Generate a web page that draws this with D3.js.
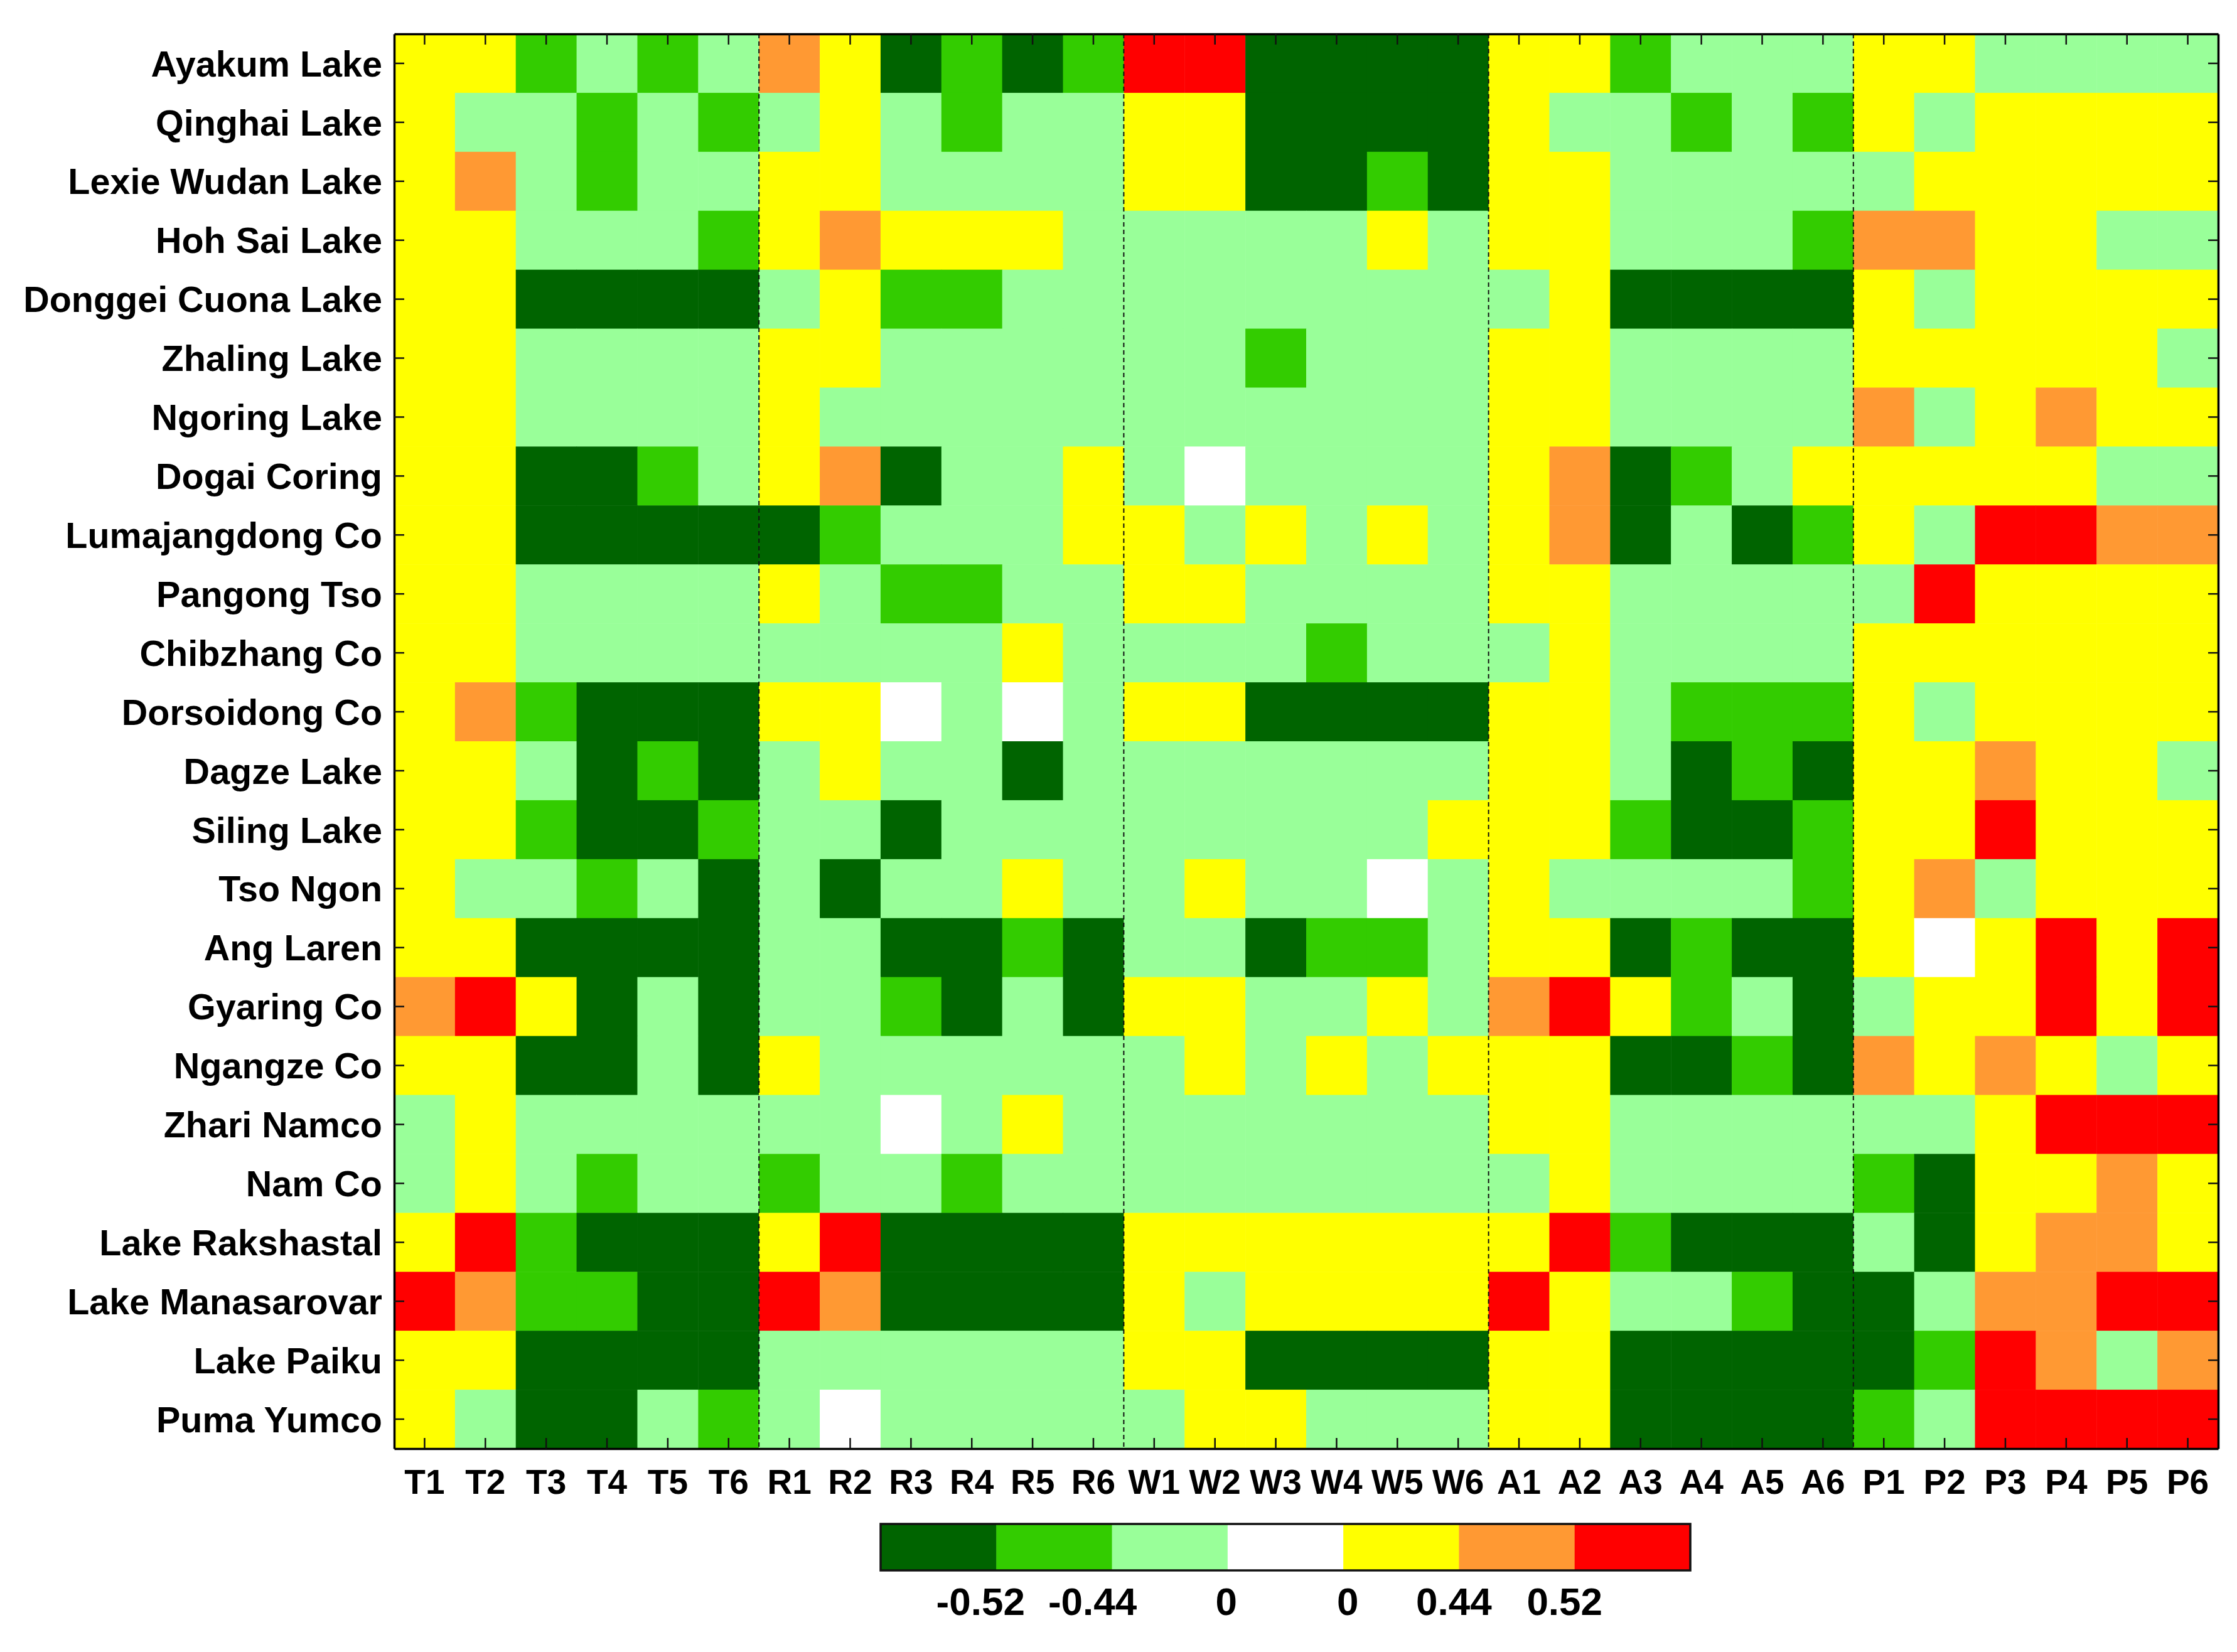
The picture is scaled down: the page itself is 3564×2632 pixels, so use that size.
<!DOCTYPE html>
<html>
<head>
<meta charset="utf-8">
<script src="https://cdn.jsdelivr.net/npm/d3@7"></script>
<style>
  body { margin: 0; background: #fff; }
  text { font-family: "Liberation Sans", Arial, sans-serif; font-weight: bold; fill: #000; }
</style>
</head>
<body>
<svg id="chart"></svg>
<script>
const lakes = ["Ayakum Lake", "Qinghai Lake", "Lexie Wudan Lake", "Hoh Sai Lake", "Donggei Cuona Lake",
    "Zhaling Lake", "Ngoring Lake", "Dogai Coring", "Lumajangdong Co", "Pangong Tso", "Chibzhang Co",
    "Dorsoidong Co", "Dagze Lake", "Siling Lake", "Tso Ngon", "Ang Laren", "Gyaring Co", "Ngangze Co",
    "Zhari Namco", "Nam Co", "Lake Rakshastal", "Lake Manasarovar", "Lake Paiku", "Puma Yumco"];
const groups = ["T", "R", "W", "A", "P"];
const months = [1, 2, 3, 4, 5, 6];
const columns = groups.flatMap(g => months.map(m => g + m));

// colour class of each cell, one line per lake, one block per group (T R W A P)
const classRows = [
    "YYGLGL OYDGDG RRDDDD YYGLLL YYLLLL",
    "YLLGLG LYLGLL YYDDDD YLLGLG YLYYYY",
    "YOLGLL YYLLLL YYDDGD YYLLLL LYYYYY",
    "YYLLLG YOYYYL LLLLYL YYLLLG OOYYLL",
    "YYDDDD LYGGLL LLLLLL LYDDDD YLYYYY",
    "YYLLLL YYLLLL LLGLLL YYLLLL YYYYYL",
    "YYLLLL YLLLLL LLLLLL YYLLLL OLYOYY",
    "YYDDGL YODLLY LWLLLL YODGLY YYYYLL",
    "YYDDDD DGLLLY YLYLYL YODLDG YLRROO",
    "YYLLLL YLGGLL YYLLLL YYLLLL LRYYYY",
    "YYLLLL LLLLYL LLLGLL LYLLLL YYYYYY",
    "YOGDDD YYWLWL YYDDDD YYLGGG YLYYYY",
    "YYLDGD LYLLDL LLLLLL YYLDGD YYOYYL",
    "YYGDDG LLDLLL LLLLLY YYGDDG YYRYYY",
    "YLLGLD LDLLYL LYLLWL YLLLLG YOLYYY",
    "YYDDDD LLDDGD LLDGGL YYDGDD YWYRYR",
    "ORYDLD LLGDLD YYLLYL ORYGLD LYYRYR",
    "YYDDLD YLLLLL LYLYLY YYDDGD OYOYLY",
    "LYLLLL LLWLYL LLLLLL YYLLLL LLYRRR",
    "LYLGLL GLLGLL LLLLLL LYLLLL GDYYOY",
    "YRGDDD YRDDDD YYYYYY YRGDDD LDYOOY",
    "ROGGDD RODDDD YLYYYY RYLLGD DLOORR",
    "YYDDDD LLLLLL YYDDDD YYDDDD DGROLO",
    "YLDDLG LWLLLL LYYLLL YYDDDD GLRRRR"
];
const classKeys = ["D", "G", "L", "W", "Y", "O", "R"];
const classColors = ["#006400", "#33cc00", "#99ff99", "#ffffff", "#ffff00", "#ff9933", "#ff0000"];
const legendLabels = ["-0.52", "-0.44", "0", "0", "0.44", "0.52"];

const svgWidth = 3564,
    svgHeight = 2632,
    margin = {top: 54, right: 30, bottom: 324, left: 628},
    width = svgWidth - margin.left - margin.right,
    height = svgHeight - margin.top - margin.bottom;

const chart = d3.select("#chart")
    .attr("width", svgWidth)
    .attr("height", svgHeight)
    .style("display", "block");
const inner = chart.append("g")
    .attr("transform", `translate(${margin.left},${margin.top})`);

const xScale = d3.scaleBand().domain(columns).range([0, width]);
const yScale = d3.scaleBand().domain(lakes).range([0, height]);
const color = d3.scaleOrdinal().domain(classKeys).range(classColors);

const cells = lakes.flatMap((lake, i) => classRows[i].replace(/ /g, "").split("")
    .map((c, j) => ({lake: lake, column: columns[j], cls: c})));

inner.selectAll("rect.cell")
    .data(cells)
    .join("rect")
    .attr("class", "cell")
    .attr("x", d => xScale(d.column))
    .attr("y", d => yScale(d.lake))
    .attr("width", xScale.bandwidth() + 0.5)
    .attr("height", yScale.bandwidth() + 0.5)
    .attr("fill", d => color(d.cls));

// dashed lines between the groups
inner.selectAll("line.sep")
    .data(groups.slice(1))
    .join("line")
    .attr("class", "sep")
    .attr("x1", d => xScale(d + 1))
    .attr("x2", d => xScale(d + 1))
    .attr("y1", 0)
    .attr("y2", height)
    .attr("stroke", "#111")
    .attr("stroke-width", 2)
    .attr("stroke-dasharray", "7,5");

function styleAxis(g, fontSize) {
    g.select(".domain").attr("stroke", "#000").attr("stroke-width", 3.5);
    g.selectAll(".tick line").attr("stroke", "#111").attr("stroke-width", 2.5);
    g.selectAll("text").attr("font-size", fontSize);
    g.attr("font-family", null);
}

inner.append("g")
    .call(d3.axisLeft(yScale).tickSizeInner(-16).tickSizeOuter(0).tickPadding(19))
    .call(styleAxis, 57.5)
    .selectAll("text").attr("dy", "0.36em");
inner.append("g")
    .attr("transform", `translate(0,${height})`)
    .call(d3.axisBottom(xScale).tickSizeInner(-17).tickSizeOuter(0).tickPadding(33))
    .call(styleAxis, 55);
inner.append("g")
    .call(d3.axisTop(xScale).tickSizeInner(-17).tickSizeOuter(0).tickFormat(""))
    .call(styleAxis, 55);
inner.append("g")
    .attr("transform", `translate(${width},0)`)
    .call(d3.axisRight(yScale).tickSizeInner(-16).tickSizeOuter(0).tickFormat(""))
    .call(styleAxis, 56);

// colour bar
const legendX = d3.scaleBand().domain(classKeys).range([1403, 2693]);
const legendTop = 2428, legendHeight = 74;
const legendNudge = [-25, -31, -2, 7, -8, -16];
const legend = chart.append("g");

legend.selectAll("rect")
    .data(classKeys)
    .join("rect")
    .attr("x", d => legendX(d))
    .attr("y", legendTop)
    .attr("width", legendX.bandwidth() + 0.5)
    .attr("height", legendHeight)
    .attr("fill", d => color(d));
legend.append("rect")
    .attr("x", legendX.range()[0])
    .attr("y", legendTop)
    .attr("width", legendX.range()[1] - legendX.range()[0])
    .attr("height", legendHeight)
    .attr("fill", "none")
    .attr("stroke", "#111")
    .attr("stroke-width", 3.5);
legend.selectAll("text")
    .data(legendLabels)
    .join("text")
    .attr("x", (d, i) => legendX(classKeys[i + 1]) + legendNudge[i])
    .attr("y", 2573)
    .attr("text-anchor", "middle")
    .attr("font-size", 62)
    .text(d => d);
</script>
</body>
</html>
